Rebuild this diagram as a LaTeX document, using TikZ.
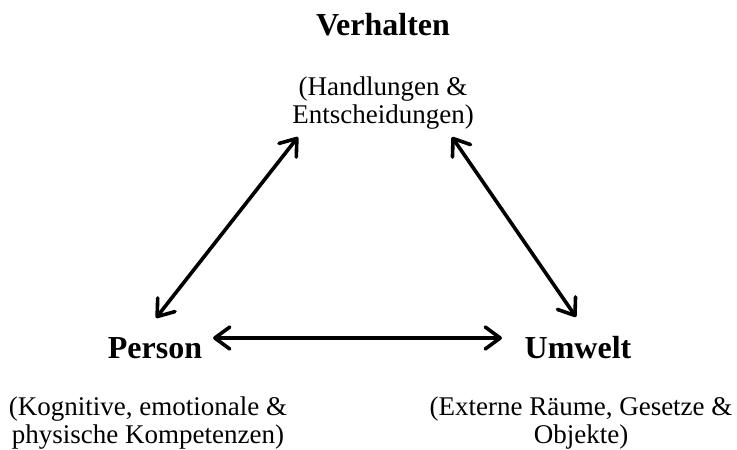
\documentclass[tikz,border=0pt]{standalone}
\usepackage{fontspec}
\setmainfont{Liberation Serif}
\usetikzlibrary{arrows.meta}

\begin{document}
\begin{tikzpicture}[x=1pt,y=-1pt,
  title/.style={font=\fontsize{32}{34}\selectfont\bfseries, inner sep=0pt, anchor=base},
  desc/.style={font=\fontsize{27}{28}\selectfont, inner sep=0pt, align=center, anchor=base},
  link/.style={line width=3.6pt, line cap=round, line join=round,
    {Straight Barb[length=15pt,width=22pt,line cap=round,line join=round]}-{Straight Barb[length=15pt,width=22pt,line cap=round,line join=round]}}]
  \useasboundingbox (0,0) rectangle (737,450);

  % the three corners of the model (base anchor = last line of a label)
  \node[title] (verhalten) at (383,35) {Verhalten};
  \node[desc]  (handlung)  at (383,123) {(Handlungen \&\\Entscheidungen)};
  \node[title] (person)    at (155,358) {Person};
  \node[desc]  (kompetenz) at (148,443) {(Kognitive, emotionale \&\\physische Kompetenzen)};
  \node[title] (umwelt)    at (578,358) {Umwelt};
  \node[desc]  (raum)      at (581,443) {(Externe Räume, Gesetze \&\\Objekte)};

  % ends of the two-way arrows
  \coordinate (pv) at (156,318);
  \coordinate (vp) at (298,137);
  \coordinate (vu) at (452,137);
  \coordinate (uv) at (576,317);
  \coordinate (pu) at (213,338);
  \coordinate (up) at (502,338);

  \draw[link] (pv) -- (vp);
  \draw[link] (vu) -- (uv);
  \draw[link] (pu) -- (up);
\end{tikzpicture}
\end{document}
